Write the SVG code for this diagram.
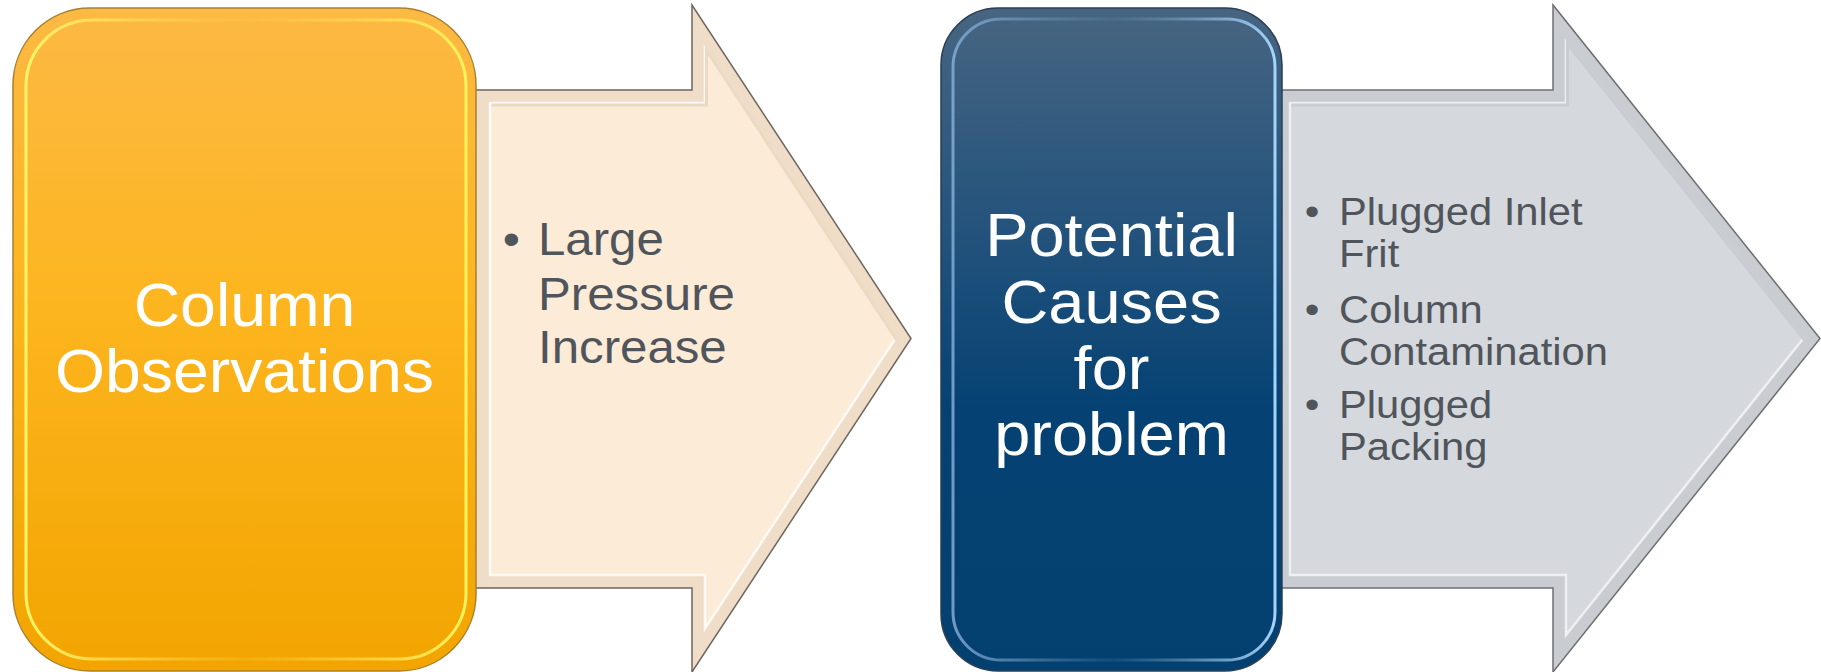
<svg xmlns="http://www.w3.org/2000/svg" width="1821" height="672" viewBox="0 0 1821 672">
  <style>
    .title { font-family: "Liberation Sans", Arial, sans-serif; font-size: 61px; fill: #ffffff; text-anchor: middle; }
    .item1 { font-family: "Liberation Sans", Arial, sans-serif; font-size: 46px; fill: #50555b; }
    .item2 { font-family: "Liberation Sans", Arial, sans-serif; font-size: 39px; fill: #50555b; }
  </style>
  <defs>
    <linearGradient id="gOrange" x1="0" y1="0" x2="0" y2="1">
      <stop offset="0" stop-color="#fcb944"/>
      <stop offset="0.45" stop-color="#fdb51f"/>
      <stop offset="1" stop-color="#f2a500"/>
    </linearGradient>
    <linearGradient id="gBlue" x1="0" y1="0" x2="0" y2="1">
      <stop offset="0" stop-color="#476581"/>
      <stop offset="0.35" stop-color="#22527c"/>
      <stop offset="0.6" stop-color="#054273"/>
      <stop offset="1" stop-color="#04406f"/>
    </linearGradient>
    <linearGradient id="gOrangeRim" x1="0" y1="0" x2="1" y2="0">
      <stop offset="0" stop-color="#fff56a"/>
      <stop offset="0.5" stop-color="#ffd24a" stop-opacity="0.2"/>
      <stop offset="1" stop-color="#fff35c"/>
    </linearGradient>
    <linearGradient id="gBlueRim" x1="0" y1="0" x2="1" y2="0">
      <stop offset="0" stop-color="#86b2dc" stop-opacity="0.8"/>
      <stop offset="0.5" stop-color="#6b95bd" stop-opacity="0.15"/>
      <stop offset="1" stop-color="#a4d4fa"/>
    </linearGradient>
  </defs>

  <!-- connectors: the two block arrows -->
  <g id="connectors">
    <g id="arrow-1">
      <path d="M470,90 H692 V5 L911,338.5 L692,672 V588 H470 Z" fill="#f0ddc8" stroke="#6e6660" stroke-width="1.5"/>
      <path d="M490,103 H705 V48.5 L895.4,338.5 L705,628.5 V575 H490 Z" fill="#fcebd7" stroke="#ffffff" stroke-width="2.5" stroke-opacity="0.8"/>
      <path d="M490,103 H705 V48.5 L895.4,338.5" fill="none" stroke="#ecd9c4" stroke-width="3" transform="translate(1.5,2)"/>
    </g>
    <g id="arrow-2">
      <path d="M1270,90 H1553 V5 L1820,338.5 L1553,672 V588 H1270 Z" fill="#c9ccd1" stroke="#6d6f73" stroke-width="1.5"/>
      <path d="M1290,103 H1566 V42 L1803.3,338.5 L1566,635 V575 H1290 Z" fill="#d5d8dd" stroke="#f4f5f7" stroke-width="2.5" stroke-opacity="0.85"/>
      <path d="M1290,103 H1566 V42 L1803.3,338.5" fill="none" stroke="#c9ccd1" stroke-width="3" transform="translate(1.5,2)"/>
    </g>
  </g>

  <!-- node: column observations -->
  <g id="node-observations">
    <rect x="13" y="8" width="463" height="663" rx="77" fill="url(#gOrange)" stroke="#a8802f" stroke-width="1.5"/>
    <rect x="26" y="20" width="440" height="639" rx="66" fill="none" stroke="url(#gOrangeRim)" stroke-width="3"/>
    <g transform="translate(244.5,0) scale(1.055,1)">
      <text class="title" x="0" y="326">Column</text>
      <text class="title" x="0" y="392">Observations</text>
    </g>
  </g>

  <!-- node: large pressure increase -->
  <g id="node-pressure">
    <g transform="translate(538,0) scale(1.07,1)">
      <text class="item1" x="-33" y="255">•</text>
      <text class="item1" x="0" y="255">Large</text>
      <text class="item1" x="0" y="310">Pressure</text>
      <text class="item1" x="0" y="363">Increase</text>
    </g>
  </g>

  <!-- node: potential causes -->
  <g id="node-causes">
    <rect x="941" y="8" width="341" height="663" rx="57" fill="url(#gBlue)" stroke="#2a3f55" stroke-width="1.5"/>
    <rect x="953" y="19" width="322" height="641" rx="48" fill="none" stroke="url(#gBlueRim)" stroke-width="3"/>
    <g transform="translate(1111.5,0) scale(1.065,1)">
      <text class="title" x="0" y="256">Potential</text>
      <text class="title" x="0" y="323">Causes</text>
      <text class="title" x="0" y="389">for</text>
      <text class="title" x="0" y="455">problem</text>
    </g>
  </g>

  <!-- node: cause list -->
  <g id="node-cause-list">
    <g transform="translate(1339,0) scale(1.07,1)">
      <text class="item2" x="-32" y="225">•</text>
      <text class="item2" x="0" y="225">Plugged Inlet</text>
      <text class="item2" x="0" y="267">Frit</text>
      <text class="item2" x="-32" y="323">•</text>
      <text class="item2" x="0" y="323">Column</text>
      <text class="item2" x="0" y="365">Contamination</text>
      <text class="item2" x="-32" y="418">•</text>
      <text class="item2" x="0" y="418">Plugged</text>
      <text class="item2" x="0" y="460">Packing</text>
    </g>
  </g>
</svg>
